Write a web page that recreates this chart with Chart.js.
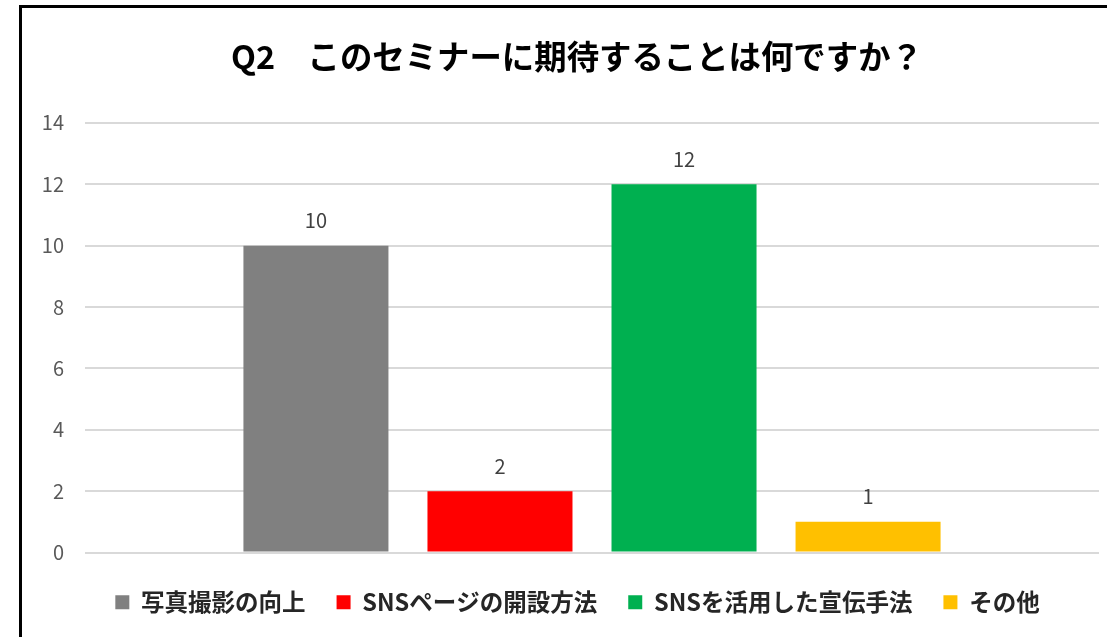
<!DOCTYPE html>
<html>
<head>
<meta charset="utf-8">
<script src="https://cdn.jsdelivr.net/npm/chart.js@4.4.1/dist/chart.umd.min.js"></script>
<style>
  body { margin: 0; background: #fff; }
  #wrap { position: relative; width: 1107px; height: 637px; overflow: hidden; }
  #chart { position: absolute; left: 0; top: 0; }
  #frame {
    position: absolute; left: 19px; top: 5px; width: 1200px; height: 700px;
    border-left: 3px solid #000; border-top: 3px solid #000; pointer-events: none;
  }
</style>
</head>
<body>
<div id="wrap">
  <canvas id="chart" width="1107" height="637"></canvas>
  <div id="frame"></div>
</div>
<script>
// data
const categories = [''];
const seriesNames = ['写真撮影の向上', 'SNSページの開設方法', 'SNSを活用した宣伝手法', 'その他'];
const seriesValues = [10, 2, 12, 1];
const seriesColors = ['#808080', '#FF0000', '#00B050', '#FFC000'];
const yTicks = [0, 2, 4, 6, 8, 10, 12, 14];

const FONT = '"Noto Sans CJK JP", "Noto Sans", sans-serif';

// value labels above bars
const barLabels = {
  id: 'barLabels',
  afterDatasetsDraw(chart) {
    const ctx = chart.ctx;
    ctx.save();
    ctx.font = '20px ' + FONT;
    ctx.fillStyle = '#404040';
    ctx.textAlign = 'center';
    ctx.textBaseline = 'bottom';
    chart.data.datasets.forEach((ds, i) => {
      chart.getDatasetMeta(i).data.forEach((bar, j) => {
        ctx.fillText(ds.data[j], bar.x, bar.y - 15);
      });
    });
    ctx.restore();
  }
};

// the original centres title and legend over the whole frame, not the canvas
const shiftBoxes = {
  id: 'shiftBoxes',
  afterLayout(chart) {
    if (chart.titleBlock) chart.titleBlock.left += 41;
    if (chart.legend) chart.legend.left += 42;
  }
};

new Chart(document.getElementById('chart'), {
  type: 'bar',
  data: {
    labels: categories,
    datasets: seriesNames.map((name, i) => ({
      label: name,
      data: [seriesValues[i]],
      backgroundColor: seriesColors[i],
      categoryPercentage: 0.726,
      barPercentage: 0.788
    }))
  },
  options: {
    responsive: false,
    animation: false,
    layout: { padding: { left: 14, right: 8, top: 0, bottom: 13 } },
    plugins: {
      title: {
        display: true,
        text: 'Q2　このセミナーに期待することは何ですか？',
        color: '#000',
        font: { family: FONT, size: 32.4, weight: 'bold' },
        padding: { top: 37, bottom: 47 }
      },
      legend: {
        position: 'bottom',
        labels: {
          color: '#262626',
          font: { family: FONT, size: 23.5, weight: 'bold' },
          boxWidth: 14,
          boxHeight: 14,
          padding: 31
        }
      },
      tooltip: { enabled: false }
    },
    scales: {
      x: {
        grid: { display: false, drawTicks: false },
        border: { display: false },
        ticks: { display: false },
        afterFit: axis => { axis.height = 7; }
      },
      y: {
        min: 0,
        max: 14,
        afterBuildTicks: axis => { axis.ticks = yTicks.map(v => ({ value: v })); },
        afterFit: axis => { axis.width = 71; },
        ticks: {
          color: '#595959',
          font: { family: FONT, size: 20 },
          padding: 21
        },
        grid: { color: '#D9D9D9', lineWidth: 2, drawTicks: false },
        border: { display: false }
      }
    }
  },
  plugins: [barLabels, shiftBoxes]
});
</script>
</body>
</html>
